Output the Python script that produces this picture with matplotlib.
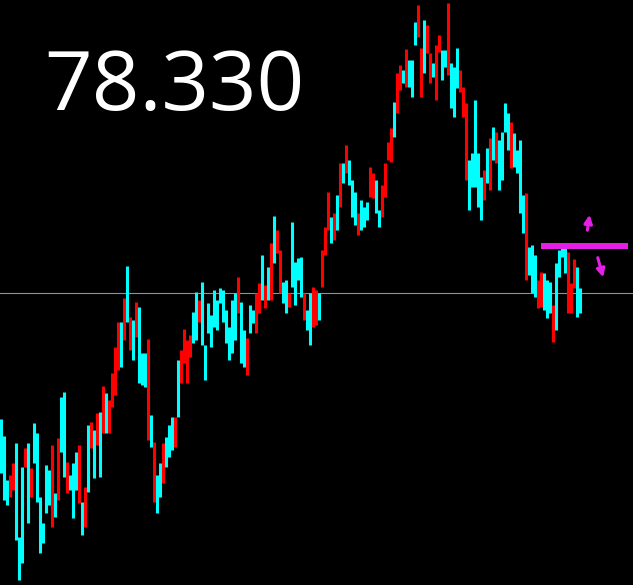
import matplotlib
matplotlib.use("Agg")
import matplotlib.pyplot as plt
import numpy as np

# bar tops / bottoms, read in chart units (screen depth, axis inverted)
top = [419, 436, 480, 475, 463, 443, 537, 467, 448, 443, 468, 423, 433, 497, 523, 465, 470, 445, 493, 438,
       397, 392, 462, 475, 463, 452, 445, 502, 487, 425, 422, 430, 413, 412,
       386, 393, 400, 373, 347, 322, 322, 298, 266, 317, 320, 302, 307, 353, 353, 339,
       415, 442, 475, 463, 443, 437, 425, 417, 417, 360, 350, 329, 340, 335, 312,
       292, 300, 282, 345, 303, 315, 290, 300, 288, 290, 310, 327, 300, 293, 277, 302,
       330, 338, 305, 310, 293, 283, 255, 285, 267, 243, 216, 230, 250, 282, 280, 293,
       222, 262, 258, 257, 293, 310, 293, 287, 290, 293, 250, 227, 192, 217, 213, 195,
       163, 163, 145, 160, 180, 192, 213, 200, 207, 202, 167, 173, 180, 210, 185,
       163, 142, 128, 102, 73, 65, 70, 49, 60, 60, 22, 5, 48, 20, 25, 53, 63, 45, 35, 50,
       50, 3, 63, 67, 48, 70, 87, 103, 160, 153, 100, 153, 177, 170, 148, 138, 127, 132,
       140, 132, 103, 113, 122, 133, 150, 140, 195, 193, 247, 245, 255, 280, 272, 273,
       280, 282, 305, 263, 250, 247, 248, 252, 283, 259, 267, 288]
bottom = [473, 500, 505, 497, 490, 540, 580, 563, 467, 523, 497, 463, 502, 553, 543, 513, 505, 527, 517, 500,
          452, 477, 493, 490, 518, 490, 503, 535, 527, 492, 448, 478, 445, 477,
          433, 433, 433, 407, 395, 370, 367, 340, 322, 350, 360, 337, 383, 385, 387, 440,
          447, 502, 513, 497, 483, 467, 457, 450, 447, 417, 383, 363, 383, 357, 343,
          340, 322, 345, 380, 333, 347, 327, 330, 303, 322, 343, 360, 353, 340, 313, 363,
          367, 375, 333, 323, 333, 313, 300, 308, 300, 300, 263, 253, 293, 303, 313, 307,
          287, 305, 280, 297, 320, 330, 345, 327, 325, 320, 287, 255, 230, 243, 240, 230,
          207, 183, 173, 185, 217, 225, 235, 230, 227, 220, 197, 198, 213, 227, 217,
          197, 160, 162, 137, 113, 90, 83, 87, 87, 97, 45, 37, 97, 73, 53, 83, 77, 100, 52, 80,
          67, 75, 108, 117, 88, 92, 117, 180, 210, 187, 187, 207, 220, 200, 183, 190, 160, 163,
          190, 180, 132, 150, 168, 167, 173, 213, 233, 280, 275, 293, 297, 308, 307, 310,
          318, 313, 342, 330, 277, 257, 273, 313, 313, 288, 317, 313]
colour = list("cccrrcccrcrccccccrcr" "ccrcccrcrcrcrc"
              "rcrrrrcrcrcrcccrc" "rccrcccrcrrrrcc"
              "rccccccccccccrccr" "ccrrcrcrcrrccrcc"
              "ccrccrrcrrrcrcrcr" "cccrcccrrccrr"
              "rrcrrcrcccrrcrrcrrcc" "rcccrrrcccccrcrcrccc"
              "crccccrcccrrcccr" "ccccrrrcccrcc")

bid_level = 293
target_level = 245.5
target_from, target_to = 541, 628
price_text = "78.330"

red = "#ff0000"
cyan = "#00ffff"
magenta = "#e51fe5"

n = min(len(top), len(bottom))
colour = (colour + ["c"] * n)[:n]
x = np.arange(n) * 3 + 1
cols = [red if c == "r" else cyan for c in colour]

fig = plt.figure(figsize=(6.33, 5.85), dpi=100, facecolor="black")
ax = fig.add_axes([0, 0, 1, 1])
ax.set_facecolor("black")

ax.axhline(bid_level, color="#8494a8", linewidth=0.8, zorder=1)
ax.vlines(x, top[:n], bottom[:n], colors=cols, linewidth=2.2, zorder=2)

ax.hlines(target_level, target_from, target_to, colors=magenta, linewidth=4.3, zorder=3)
ax.annotate("", xy=(590, 212), xytext=(587, 233),
            arrowprops=dict(arrowstyle="-|>", color=magenta, lw=2.2, mutation_scale=12))
ax.annotate("", xy=(604, 280), xytext=(597, 255),
            arrowprops=dict(arrowstyle="-|>", color=magenta, lw=2.2, mutation_scale=12))

ax.text(44, 89, price_text, color="white", fontsize=60, family="Open Sans",
        va="center", ha="left")

ax.set_xlim(0, 633)
ax.set_ylim(585, 0)
ax.axis("off")

plt.savefig("out.png", dpi=100, facecolor="black")
